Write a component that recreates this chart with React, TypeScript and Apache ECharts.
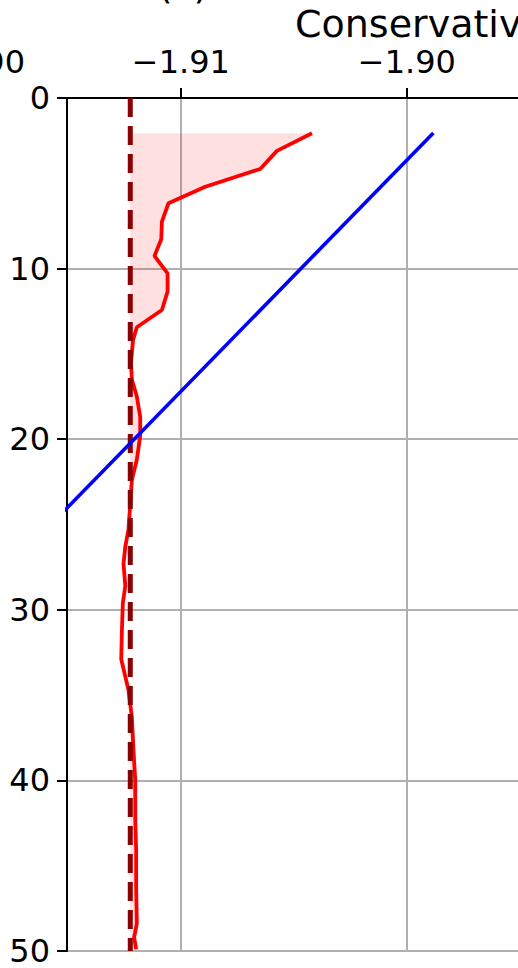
import React, { useEffect, useRef } from "react";
import * as echarts from "echarts";

// Red profile (depth in m, value)
const redDepth = [2.07, 3.1, 4.16, 5.2, 6.17, 7.25, 8.28, 9.26, 10.28, 11.35, 12.43, 13.44, 14.2, 15.55, 16.5, 17.5, 18.7, 19.8, 21.2, 22.4, 23.76, 25.3, 26.3, 27.3, 28.6, 29.6, 31.2, 32.9, 34.7, 36.3, 38.2, 40.0, 42.3, 44.1, 46.2, 48.4, 49.2, 49.9];
const redTemp = [-1.9042, -1.90575, -1.90649, -1.90892, -1.91055, -1.91084, -1.91087, -1.91117, -1.91059, -1.91059, -1.91084, -1.91195, -1.91212, -1.91221, -1.91217, -1.91195, -1.9118, -1.9118, -1.91195, -1.91217, -1.91224, -1.91232, -1.91246, -1.91254, -1.91246, -1.91257, -1.91261, -1.91264, -1.91232, -1.91217, -1.9121, -1.91202, -1.91202, -1.91198, -1.91198, -1.91195, -1.91207, -1.91198];

// Blue straight profile
const blueDepth = [2.05, 50];
const blueTemp = [-1.89883, -1.93419];

// Dashed reference value
const refTemp = -1.91224;
const refDepth = [0, 50];

// Axes
const xTicks = [-1.91, -1.9];
const yTicks = [0, 10, 20, 30, 40, 50];
const xMin = -1.91504;
const xMax = -1.894;

const FONT = "DejaVu Sans";
const fmt = (v: number) => (v < 0 ? "\u2212" : "") + Math.abs(v).toFixed(2);

export default function App() {
  const ref = useRef<HTMLDivElement>(null);
  useEffect(() => {
    if (!ref.current) return;
    const chart = echarts.init(ref.current, null, { renderer: "svg" });
    const pxPerUnit = 22600;
    const gridW = (xMax - xMin) * pxPerUnit;
    chart.setOption({
      animation: false,
      textStyle: { fontFamily: FONT },
      grid: {
        left: 67,
        top: 98,
        width: gridW,
        height: 853,
        show: true,
        borderColor: "#000",
        borderWidth: 2,
        backgroundColor: "transparent",
      },
      xAxis: {
        type: "value",
        position: "top",
        min: xMin,
        max: xMax,
        axisLine: { show: true, lineStyle: { color: "#000", width: 2 } },
        axisTick: {
          show: true,
          customValues: xTicks,
          length: 10,
          lineStyle: { color: "#000", width: 2 },
        },
        axisLabel: {
          customValues: xTicks,
          formatter: fmt,
          fontSize: 32,
          color: "#000",
          fontFamily: FONT,
          margin: 20,
        },
        splitLine: { show: true, lineStyle: { color: "#b0b0b0", width: 2 } },
      },
      yAxis: {
        type: "value",
        inverse: true,
        min: 0,
        max: 50,
        interval: 10,
        axisLine: { show: true, lineStyle: { color: "#000", width: 2 } },
        axisTick: { show: true, length: 10, lineStyle: { color: "#000", width: 2 } },
        axisLabel: {
          fontSize: 32,
          color: "#000",
          fontFamily: FONT,
          margin: 17,
          formatter: (v: number) => (yTicks.includes(v) ? String(v) : ""),
        },
        splitLine: { show: true, lineStyle: { color: "#b0b0b0", width: 2 } },
      },
      series: [
        {
          type: "custom",
          coordinateSystem: "cartesian2d",
          clip: true,
          silent: true,
          data: [[refTemp, 0]],
          renderItem: (params: any, api: any) => {
            const pts = redDepth.map((d, i) => api.coord([Math.max(redTemp[i], refTemp), d]));
            pts.push(api.coord([refTemp, redDepth[redDepth.length - 1]]));
            pts.push(api.coord([refTemp, redDepth[0]]));
            return {
              type: "polygon",
              shape: { points: pts },
              style: { fill: "rgba(255,0,0,0.12)", stroke: "none" },
            };
          },
          z: 1,
        },
        {
          type: "line",
          data: redDepth.map((d, i) => [redTemp[i], d]),
          showSymbol: false,
          lineStyle: { color: "#ff0000", width: 3.8 },
          z: 2,
        },
        {
          type: "line",
          data: refDepth.map((d) => [refTemp, d]),
          showSymbol: false,
          lineStyle: { color: "#8b0000", width: 5, type: [19, 9], cap: "butt" },
          z: 3,
        },
        {
          type: "line",
          data: blueDepth.map((d, i) => [blueTemp[i], d]),
          showSymbol: false,
          clip: true,
          lineStyle: { color: "#0000ff", width: 3.6 },
          z: 4,
        },
      ],
      graphic: [
        {
          type: "text",
          left: 295,
          top: 5,
          style: {
            text: "Conservative Temperature (\u00b0C)",
            fontSize: 38,
            fontFamily: FONT,
            fill: "#000",
          },
        },
        {
          type: "text",
          x: 183,
          y: -15,
          style: {
            text: "(c)",
            fontSize: 38,
            fontFamily: FONT,
            fill: "#000",
            align: "center",
            verticalAlign: "middle",
          },
        },
        {
          type: "text",
          x: 25,
          y: 62,
          style: {
            text: "90",
            fontSize: 32,
            fontFamily: FONT,
            fill: "#000",
            align: "right",
            verticalAlign: "middle",
          },
        },
      ],
    });
    return () => chart.dispose();
  }, []);
  return (
    <div style={{ position: "absolute", left: 0, top: 0, width: 518, height: 968, overflow: "hidden", background: "#fff" }}>
      <div ref={ref} style={{ width: 700, height: 968 }} />
    </div>
  );
}
